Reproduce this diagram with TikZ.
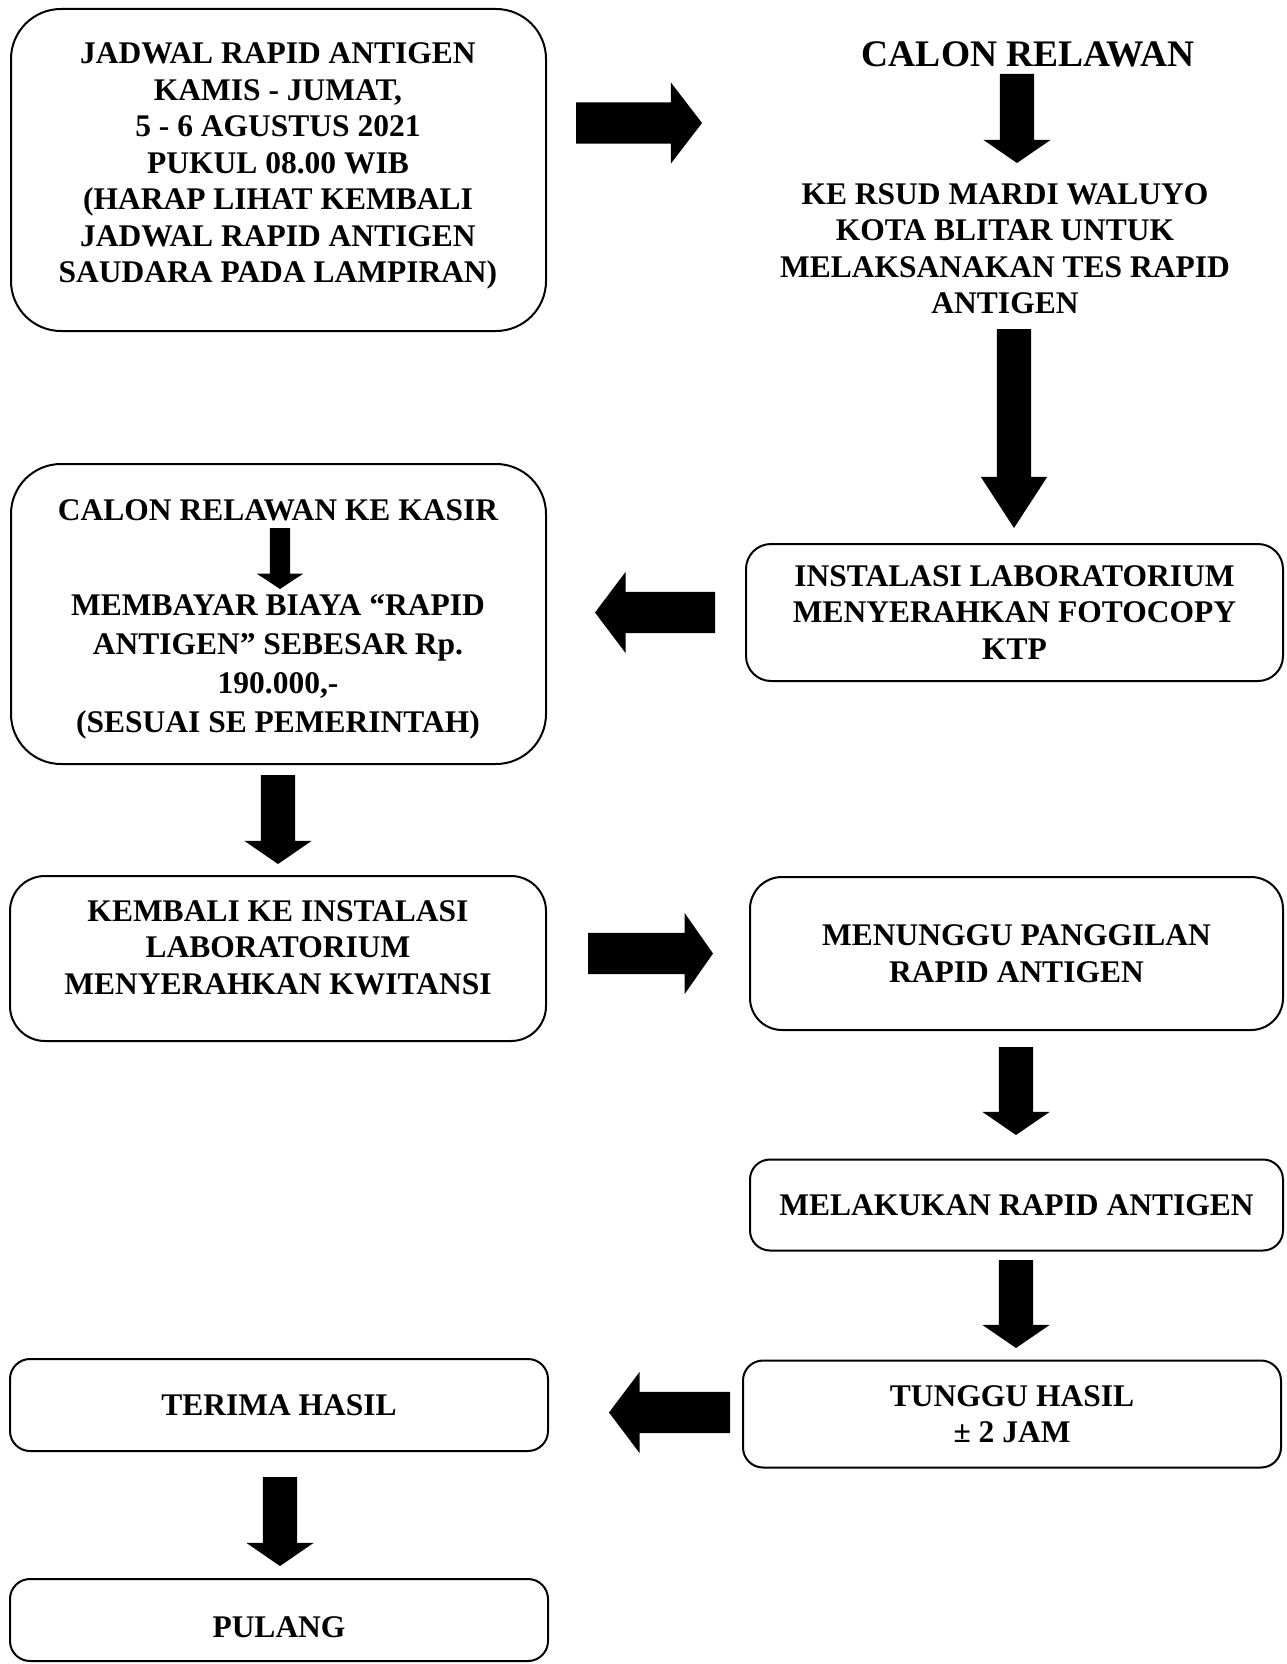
\documentclass[tikz,border=0pt]{standalone}
\usepackage{fontspec}
\setmainfont{Liberation Serif}
\usetikzlibrary{shapes.arrows}
\newcommand{\flowfont}{\fontsize{31.5}{36.5}\selectfont\bfseries}
\tikzset{
  flowbox/.style={draw=black, line width=2pt, align=center, font=\flowfont, inner sep=0pt},
  flowtext/.style={align=center, font=\flowfont, inner sep=0pt},
  blockarrow/.style={single arrow, fill=black, draw=none, inner xsep=0pt, outer sep=0pt, single arrow head indent=0pt, anchor=tail},
  downarrow/.style={blockarrow, rotate=-90, minimum height=89pt, minimum width=67pt, inner ysep=17pt, single arrow head extend=16.5pt, single arrow tip angle=111},
  sidearrow/.style={blockarrow, minimum width=81pt, inner ysep=20.5pt, single arrow head extend=20pt, single arrow tip angle=106},
}

\begin{document}
\begin{tikzpicture}[x=1pt, y=-1pt]
  \useasboundingbox (0,0) rectangle (1286,1664);

  % left column
  \node[flowbox, rounded corners=50pt, minimum width=535pt, minimum height=322pt] (JADWAL) at (278.5,170) {};
  \node[flowtext] (JADWALT) at (278,166)
    {JADWAL RAPID ANTIGEN\\KAMIS - JUMAT,\\5 - 6 AGUSTUS 2021\\PUKUL 08.00 WIB\\(HARAP LIHAT KEMBALI\\JADWAL RAPID ANTIGEN\\SAUDARA PADA LAMPIRAN)};
  \node[flowbox, rounded corners=50pt, minimum width=535pt, minimum height=300pt] (KASIR) at (278.5,614) {};
  \node[flowtext] (KASIRA) at (278,510) {CALON RELAWAN KE KASIR};
  \node[flowtext, font=\fontsize{31.5}{39}\selectfont\bfseries] (KASIRB) at (278,667)
    {MEMBAYAR BIAYA “RAPID\\ANTIGEN” SEBESAR Rp.\\190.000,-\\(SESUAI SE PEMERINTAH)};
  \node[flowbox, rounded corners=35pt, minimum width=536pt, minimum height=165pt] (KEMBALI) at (278,958.5) {};
  \node[flowtext] (KEMBALIT) at (278,947.5) {KEMBALI KE INSTALASI\\LABORATORIUM\\MENYERAHKAN KWITANSI};
  \node[flowbox, rounded corners=20pt, minimum width=538pt, minimum height=92pt] (TERIMA) at (279,1405) {TERIMA HASIL};
  \node[flowbox, rounded corners=20pt, minimum width=538pt, minimum height=82pt] (PULANG) at (279,1620) {};
  \node[flowtext] (PULANGT) at (279,1627) {PULANG};

  % right column
  \node[flowtext, font=\fontsize{37.5}{44}\selectfont\bfseries] (CALON) at (1028,54) {CALON RELAWAN};
  \node[flowtext] (RSUD) at (1005,248.5) {KE RSUD MARDI WALUYO\\KOTA BLITAR UNTUK\\MELAKSANAKAN TES RAPID\\ANTIGEN};
  \node[flowbox, rounded corners=25pt, minimum width=537pt, minimum height=137pt] (LAB) at (1014.5,612.5)
    {INSTALASI LABORATORIUM\\MENYERAHKAN FOTOCOPY\\KTP};
  \node[flowbox, rounded corners=32pt, minimum width=533pt, minimum height=153pt] (MENUNGGU) at (1016.5,953.5)
    {MENUNGGU PANGGILAN\\RAPID ANTIGEN};
  \node[flowbox, rounded corners=20pt, minimum width=533pt, minimum height=91pt] (MELAKUKAN) at (1016.5,1205) {MELAKUKAN RAPID ANTIGEN};
  \node[flowbox, rounded corners=20pt, minimum width=538pt, minimum height=107pt] (TUNGGU) at (1012,1414) {TUNGGU HASIL\\± 2 JAM};

  % block arrows
  \node[sidearrow, minimum height=126pt, single arrow tip angle=105] (A1) at (576,123) {};
  \node[downarrow] (A2) at (1017,74) {};
  \node[downarrow, minimum height=199pt, minimum width=66pt, single arrow head extend=16pt, single arrow tip angle=66] (A3) at (1014,329) {};
  \node[sidearrow, rotate=180, minimum height=120pt] (A4) at (715,612.5) {};
  \node[blockarrow, rotate=-90, minimum height=61pt, minimum width=46pt, inner ysep=10pt, single arrow head extend=13pt, single arrow tip angle=113] (A5) at (280,528) {};
  \node[downarrow] (A6) at (278,775) {};
  \node[sidearrow, minimum height=125pt, single arrow tip angle=110] (A7) at (588,953.5) {};
  \node[downarrow, minimum height=88pt] (A8) at (1016,1047) {};
  \node[downarrow, minimum height=88pt] (A9) at (1016,1260) {};
  \node[sidearrow, rotate=180, minimum height=121pt] (A10) at (730,1412.5) {};
  \node[downarrow] (A11) at (280,1477) {};
\end{tikzpicture}
\end{document}
